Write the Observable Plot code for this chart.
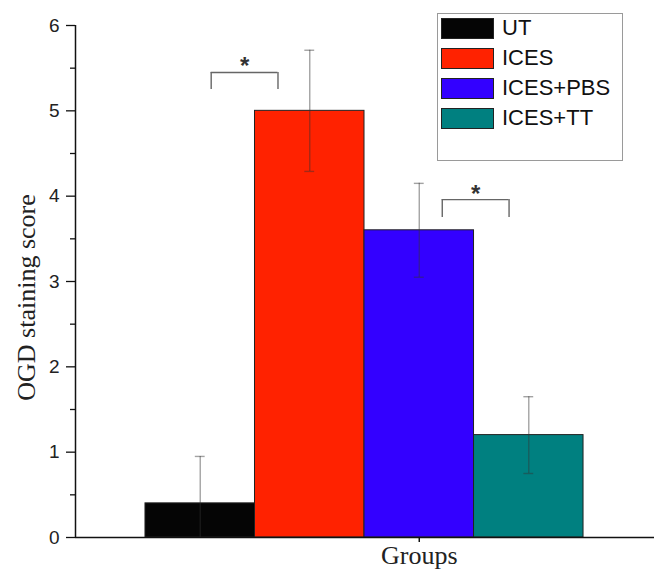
<!DOCTYPE html>
<html>
<head>
<meta charset="utf-8">
<script src="https://cdn.jsdelivr.net/npm/d3@7"></script>
<script src="https://cdn.jsdelivr.net/npm/@observablehq/plot@0.6"></script>
<style>
  html, body { margin: 0; padding: 0; background: #fff; }
  #wrap { position: relative; width: 654px; height: 571px; overflow: hidden; background: #fff; }
  #legend { position: absolute; left: 437px; top: 13px; width: 186px; height: 148px;
            border: 1px solid #9a9a9a; background: #fff; box-sizing: border-box; }
  .row { position: absolute; left: 3px; height: 22px; display: flex; align-items: center; }
  .sw { width: 53px; height: 21px; border: 1px solid #222; box-sizing: border-box; }
  .lab { margin-left: 8px; font-family: "Liberation Sans", Arial, sans-serif; font-size: 22px; color: #111; line-height: 22px; }
</style>
</head>
<body>
<div id="wrap"><div id="chart"></div><div id="legend"></div></div>
<script>
// ---- data ----
const groups = ["UT", "ICES", "ICES+PBS", "ICES+TT"];
const means  = [0.4, 5.0, 3.6, 1.2];
const errors = [0.55, 0.71, 0.55, 0.45];
const colors = ["#050505", "#ff2200", "#3300ff", "#008080"];
const yTicks = [0, 1, 2, 3, 4, 5, 6];
const yMinorTicks = [0.5, 1.5, 2.5, 3.5, 4.5, 5.5];
const xTickLabel = "Groups";
const yLabel = "OGD staining score";
// significance brackets (positions in group-index units)
const sigX1 = [0.10, 2.21];
const sigX2 = [0.71, 2.82];
const sigTop = [5.45, 3.96];
const sigLow = [5.25, 3.75];
const sigText = ["*", "*"];

const xDomain = [-1.139, 4.148];

const bars = groups.map((g, i) => ({g, i, mean: means[i], err: errors[i], color: colors[i]}));
const sigs = sigX1.map((x1, k) => ({x1, x2: sigX2[k], top: sigTop[k], low: sigLow[k], t: sigText[k]}));

const capHalf = 0.045;
const errStyle = {stroke: "#333", strokeOpacity: 0.45, strokeWidth: 1.4, clip: true};

const plot = Plot.plot({
  width: 654,
  height: 571,
  marginLeft: 75,
  marginRight: 0,
  marginTop: 25,
  marginBottom: 34,
  style: {background: "#fff", overflow: "visible"},
  x: {domain: xDomain},
  y: {domain: [0, 6]},
  color: {type: "identity"},
  marks: [
    Plot.rectY(bars, {x1: d => d.i - 0.5, x2: d => d.i + 0.5, y1: 0, y2: "mean", fill: "color", stroke: "#222", strokeWidth: 1}),
    Plot.ruleX(bars, {x: "i", y1: d => d.mean - d.err, y2: d => d.mean + d.err, ...errStyle}),
    Plot.ruleY(bars, {y: d => d.mean + d.err, x1: d => d.i - capHalf, x2: d => d.i + capHalf, ...errStyle}),
    Plot.ruleY(bars, {y: d => d.mean - d.err, x1: d => d.i - capHalf, x2: d => d.i + capHalf, ...errStyle}),
    // significance brackets
    Plot.ruleY(sigs, {y: "top", x1: "x1", x2: "x2", stroke: "#666", strokeWidth: 1.4}),
    Plot.ruleX(sigs, {x: "x1", y1: "low", y2: "top", stroke: "#666", strokeWidth: 1.4}),
    Plot.ruleX(sigs, {x: "x2", y1: "low", y2: "top", stroke: "#666", strokeWidth: 1.4}),
    Plot.text(sigs, {x: d => (d.x1 + d.x2) / 2, y: "top", text: "t", fontSize: 24, fontWeight: "bold", fontFamily: "Liberation Sans, Arial, sans-serif", fill: "#333", lineAnchor: "top", dy: -15}),
    // axes
    Plot.ruleY([0], {stroke: "#111", strokeWidth: 1.5}),
    Plot.ruleX([xDomain[0]], {stroke: "#111", strokeWidth: 1.5}),
    Plot.axisY({ticks: yTicks, tickSize: 9, tickPadding: 7, tickFormat: d3.format("d"), fontSize: 19, fontFamily: "Liberation Sans, Arial, sans-serif", label: null, stroke: "#111", strokeWidth: 1.3, color: "#222"}),
    Plot.axisY({ticks: yMinorTicks, tickSize: 5, tickFormat: () => "", label: null, stroke: "#111", strokeWidth: 1.3}),
    Plot.axisX({ticks: [2], tickSize: 5, tickPadding: 3, tickFormat: () => xTickLabel, fontSize: 26, fontFamily: "Liberation Serif, Times New Roman, serif", label: null, stroke: "#111", strokeWidth: 1.5, color: "#222"}),
    Plot.text([yLabel], {frameAnchor: "left", textAnchor: "middle", text: d => d, rotate: -90, dx: -49, dy: 16, fontSize: 26, fontFamily: "Liberation Serif, Times New Roman, serif", fill: "#222"})
  ]
});
document.getElementById("chart").appendChild(plot);

// legend
const leg = document.getElementById("legend");
groups.forEach((g, i) => {
  const row = document.createElement("div");
  row.className = "row";
  row.style.top = (3 + i * 30) + "px";
  const sw = document.createElement("div");
  sw.className = "sw";
  sw.style.background = colors[i];
  const lab = document.createElement("span");
  lab.className = "lab";
  lab.textContent = g;
  row.appendChild(sw);
  row.appendChild(lab);
  leg.appendChild(row);
});
</script>
</body>
</html>
